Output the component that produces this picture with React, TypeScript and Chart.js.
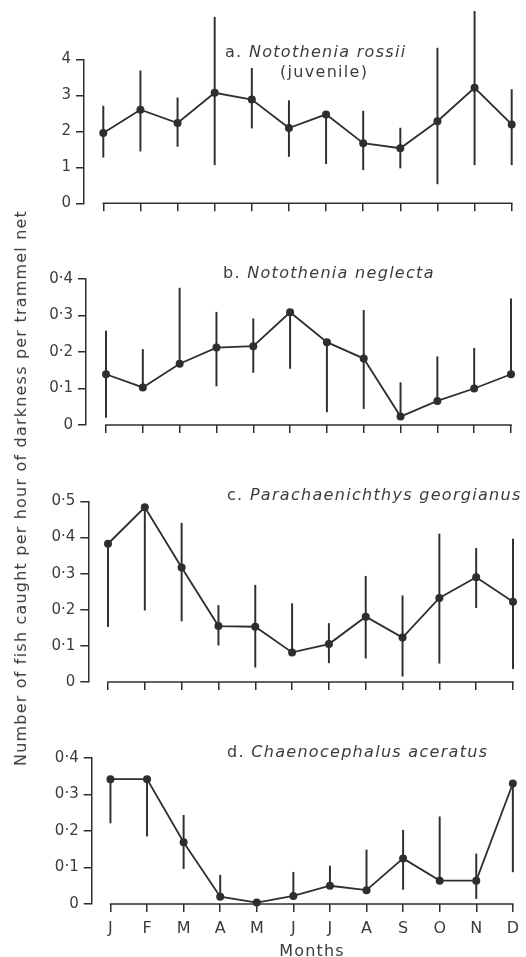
import React, { useEffect, useRef } from "react";
import { Chart, registerables } from "chart.js";

Chart.register(...registerables);

// ---------- data ----------
const months = ["J", "F", "M", "A", "M", "J", "J", "A", "S", "O", "N", "D"];

// a. Notothenia rossii (juvenile)
const rossiiMean = [1.95, 2.6, 2.23, 3.07, 2.88, 2.09, 2.47, 1.67, 1.53, 2.28, 3.21, 2.19];
const rossiiLow = [1.28, 1.45, 1.58, 1.07, 2.09, 1.3, 1.1, 0.93, 0.98, 0.54, 1.07, 1.07];
const rossiiHigh = [2.7, 3.68, 2.93, 5.17, 3.75, 2.85, 2.47, 2.56, 2.09, 4.31, 5.33, 3.16];
const rossiiTicks = [0, 1, 2, 3, 4];

// b. Notothenia neglecta
const neglectaMean = [0.139, 0.103, 0.168, 0.212, 0.216, 0.309, 0.227, 0.182, 0.023, 0.066, 0.1, 0.139];
const neglectaLow = [0.021, 0.103, 0.168, 0.107, 0.144, 0.155, 0.036, 0.045, 0.023, 0.066, 0.1, 0.139];
const neglectaHigh = [0.257, 0.207, 0.375, 0.309, 0.291, 0.309, 0.227, 0.314, 0.116, 0.187, 0.21, 0.346];
const neglectaTicks = [0, 0.1, 0.2, 0.3, 0.4];

// c. Parachaenichthys georgianus
const georgianusMean = [0.383, 0.484, 0.317, 0.155, 0.153, 0.082, 0.105, 0.181, 0.123, 0.233, 0.29, 0.222];
const georgianusLow = [0.153, 0.199, 0.169, 0.102, 0.041, 0.082, 0.053, 0.066, 0.016, 0.052, 0.206, 0.037];
const georgianusHigh = [0.383, 0.484, 0.44, 0.212, 0.268, 0.217, 0.162, 0.293, 0.239, 0.41, 0.37, 0.396];
const georgianusTicks = [0, 0.1, 0.2, 0.3, 0.4, 0.5];

// d. Chaenocephalus aceratus
const aceratusMean = [0.342, 0.342, 0.169, 0.02, 0.004, 0.022, 0.05, 0.038, 0.125, 0.064, 0.064, 0.33];
const aceratusLow = [0.222, 0.186, 0.097, 0.02, 0.004, 0.022, 0.05, 0.038, 0.04, 0.064, 0.015, 0.088];
const aceratusHigh = [0.342, 0.342, 0.243, 0.079, 0.004, 0.087, 0.104, 0.148, 0.202, 0.239, 0.137, 0.33];
const aceratusTicks = [0, 0.1, 0.2, 0.3, 0.4];

const yTitle = "Number of fish caught per hour of darkness per trammel net";
const xTitle = "Months";

// ---------- styles / layout ----------
const INK = "#2e2e2e";
const TEXT = "#3c3c3c";
const FONT = "'DejaVu Sans', sans-serif";

type Panel = {
  mean: number[];
  low: number[];
  high: number[];
  yTicks: number[];
  decimals: boolean;
  showLabels: boolean;
  top: number;
  height: number;
  axisX: number;
  firstX: number;
  lastX: number;
  yTopPage: number;
  yZeroPage: number;
};

const panels: Panel[] = [
  { mean: rossiiMean, low: rossiiLow, high: rossiiHigh, yTicks: rossiiTicks, decimals: false, showLabels: false,
    top: 0, height: 226, axisX: 84, firstX: 103.3, lastX: 511.7, yTopPage: 59.3, yZeroPage: 203.3 },
  { mean: neglectaMean, low: neglectaLow, high: neglectaHigh, yTicks: neglectaTicks, decimals: true, showLabels: false,
    top: 228, height: 212, axisX: 86, firstX: 106, lastX: 511, yTopPage: 279, yZeroPage: 425 },
  { mean: georgianusMean, low: georgianusLow, high: georgianusHigh, yTicks: georgianusTicks, decimals: true, showLabels: false,
    top: 445, height: 252, axisX: 88.3, firstX: 108, lastX: 513, yTopPage: 501.5, yZeroPage: 682 },
  { mean: aceratusMean, low: aceratusLow, high: aceratusHigh, yTicks: aceratusTicks, decimals: true, showLabels: true,
    top: 700, height: 257, axisX: 91.7, firstX: 110.7, lastX: 518.3, yTopPage: 758, yZeroPage: 904 },
];

const fmt = (v: number, decimals: boolean) =>
  v === 0 ? "0" : decimals ? v.toFixed(1).replace(".", "\u00B7") : String(v);

const xAxisLine = {
  id: "xAxisLine",
  beforeDatasetsDraw(chart: any) {
    const x = chart.scales.x;
    const y = chart.scales.y;
    const ctx = chart.ctx;
    const yy = y.getPixelForValue(0);
    ctx.save();
    ctx.strokeStyle = INK;
    ctx.lineWidth = 1.5;
    ctx.beginPath();
    ctx.moveTo(x.getPixelForValue(0) - 0.75, yy);
    ctx.lineTo(x.getPixelForValue(months.length - 1) + 0.75, yy);
    ctx.stroke();
    ctx.restore();
  },
};

function PanelChart({ p }: { p: Panel }) {
  const ref = useRef<HTMLCanvasElement>(null);
  useEffect(() => {
    const spacing = (p.lastX - p.firstX) / (months.length - 1);
    const xMin = -(p.firstX - p.axisX) / spacing;
    const axisH = p.showLabels ? 44 : 12;
    const padTop = p.yTopPage - p.top;
    const padBottom = p.top + p.height - p.yZeroPage - axisH;
    const yMax = p.yTicks[p.yTicks.length - 1];
    const chart = new Chart(ref.current as HTMLCanvasElement, {
      type: "line",
      data: {
        datasets: [
          {
            type: "line",
            data: p.mean.map((v, i) => ({ x: i, y: v })),
            borderColor: INK,
            borderWidth: 1.8,
            pointRadius: 4,
            pointBackgroundColor: INK,
            pointBorderWidth: 0,
            tension: 0,
            clip: false as any,
            order: 0,
          } as any,
          {
            type: "bar",
            data: p.low.map((v, i) => ({ x: i, y: [v, p.high[i]] })),
            backgroundColor: INK,
            borderWidth: 0,
            barThickness: 1.3,
            clip: false as any,
            order: 1,
          } as any,
        ],
      },
      options: {
        animation: false,
        responsive: false,
        devicePixelRatio: 1,
        events: [],
        layout: { padding: { left: 0, right: 526 - p.lastX, top: padTop, bottom: padBottom } },
        plugins: { legend: { display: false }, tooltip: { enabled: false }, title: { display: false } },
        scales: {
          x: {
            type: "linear",
            min: xMin,
            max: months.length - 1,
            offset: false,
            afterBuildTicks: (s: any) => {
              s.ticks = months.map((_, i) => ({ value: i }));
            },
            afterFit: (s: any) => {
              s.height = axisH;
            },
            grid: {
              display: true,
              offset: false,
              drawOnChartArea: false,
              drawTicks: true,
              tickLength: 8,
              color: INK,
              lineWidth: 1.5,
            },
            border: { display: false },
            ticks: {
              display: p.showLabels,
              autoSkip: false,
              maxRotation: 0,
              padding: 7,
              color: TEXT,
              font: { family: FONT, size: 16 },
              callback: (v: any) => months[Math.round(Number(v))],
            },
          },
          y: {
            type: "linear",
            min: 0,
            max: yMax,
            afterBuildTicks: (s: any) => {
              s.ticks = p.yTicks.map((v) => ({ value: v }));
            },
            afterFit: (s: any) => {
              s.width = p.axisX;
            },
            grid: {
              display: true,
              offset: false,
              drawOnChartArea: false,
              drawTicks: true,
              tickLength: 8,
              color: INK,
              lineWidth: 1.5,
            },
            border: { display: true, color: INK, width: 1.5 },
            ticks: {
              padding: 5,
              color: TEXT,
              font: { family: FONT, size: 15 },
              callback: (v: any) => fmt(Number(v), p.decimals),
            },
          },
        } as any,
      },
      plugins: [xAxisLine],
    });
    return () => chart.destroy();
  }, [p]);
  return (
    <canvas
      ref={ref}
      width={526}
      height={p.height}
      style={{ position: "absolute", left: 0, top: p.top, width: 526, height: p.height }}
    />
  );
}

const titleStyle = (left: number, cy: number): React.CSSProperties => ({
  position: "absolute",
  left,
  top: cy,
  transform: "translateY(-50%)",
  whiteSpace: "nowrap",
  fontFamily: FONT,
  fontSize: 16,
  letterSpacing: "1.3px",
  color: TEXT,
  lineHeight: 1,
});

export default function App() {
  return (
    <div
      style={{
        position: "absolute",
        left: 0,
        top: 0,
        width: 526,
        height: 957,
        overflow: "hidden",
        background: "#ffffff",
      }}
    >
      {panels.map((p, i) => (
        <PanelChart key={i} p={p} />
      ))}
      <div style={titleStyle(225, 52)}>
        a. <i>Notothenia rossii</i>
      </div>
      <div style={titleStyle(280, 72)}>(juvenile)</div>
      <div style={titleStyle(223, 273)}>
        b. <i>Notothenia neglecta</i>
      </div>
      <div style={titleStyle(227, 495)}>
        c. <i>Parachaenichthys georgianus</i>
      </div>
      <div style={titleStyle(227, 752)}>
        d. <i>Chaenocephalus aceratus</i>
      </div>
      <div
        style={{
          position: "absolute",
          left: 21,
          top: 488,
          transform: "translate(-50%, -50%) rotate(-90deg)",
          whiteSpace: "nowrap",
          fontFamily: FONT,
          fontSize: 16,
          letterSpacing: "1.2px",
          color: TEXT,
          lineHeight: 1,
        }}
      >
        {yTitle}
      </div>
      <div
        style={{
          position: "absolute",
          left: 312,
          top: 951,
          transform: "translate(-50%, -50%)",
          whiteSpace: "nowrap",
          fontFamily: FONT,
          fontSize: 16,
          letterSpacing: "1.2px",
          color: TEXT,
          lineHeight: 1,
        }}
      >
        {xTitle}
      </div>
    </div>
  );
}
